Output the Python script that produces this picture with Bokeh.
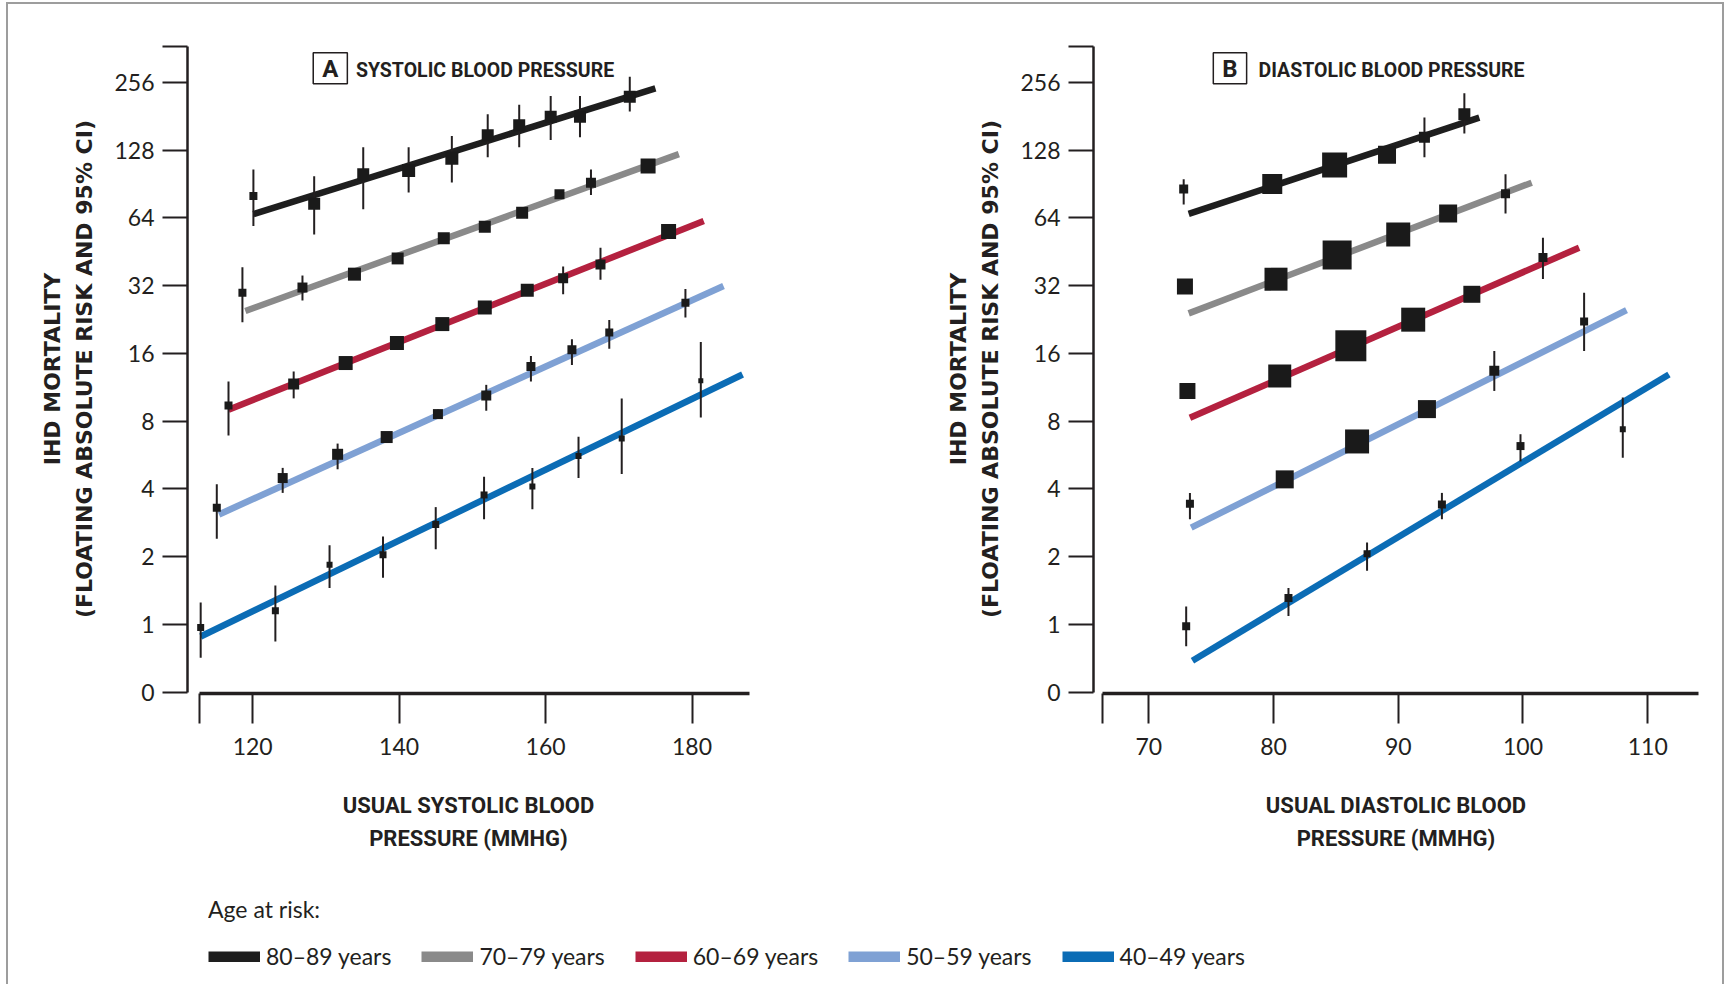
import numpy as np
from bokeh.plotting import figure
from bokeh.models import (Range1d, FixedTicker, CustomJSTickFormatter, Label,
                          Legend, LegendItem, InlineStyleSheet)
from bokeh.layouts import column, row
from bokeh.embed import file_html
from bokeh.resources import INLINE

# ---------------- data ----------------
AGE_LABELS = ["80–89 years", "70–79 years", "60–69 years", "50–59 years", "40–49 years"]
AGE_COLORS = ["#1e1e1e", "#8a8a8a", "#b4213f", "#7fa1d4", "#0b6cb5"]

# Panel A: usual systolic blood pressure (mmHg) vs IHD mortality (floating absolute risk)
sbp_80_x = [120.1, 128.4, 135.1, 141.3, 147.2, 152.1, 156.4, 160.7, 164.7, 171.5]
sbp_80_risk = [80, 74, 100, 104, 118, 149, 165, 180, 180, 221]
sbp_80_lo = [59, 54, 70, 83, 92, 119, 132, 142, 146, 190]
sbp_80_hi = [105, 98, 132, 132, 148, 185, 204, 223, 223, 271]
sbp_80_wt = [0.8, 1.2, 1.2, 1.3, 1.3, 1.2, 1.2, 1.2, 1.2, 1.2]
sbp_80_fit_x = [120.1, 175.0]
sbp_80_fit_risk = [66.5, 241]

sbp_70_x = [118.6, 126.8, 133.9, 139.8, 146.1, 151.7, 156.8, 161.9, 166.2, 174.0]
sbp_70_risk = [29.8, 31.4, 36, 42.3, 52, 58.5, 67.5, 81.5, 91.7, 109]
sbp_70_lo = [22, 27.5, 34, 40.5, 50, 56, 64, 78, 81, 105]
sbp_70_hi = [38.6, 35.5, 38, 44, 54, 61, 71, 85, 105, 113]
sbp_70_wt = [0.8, 1.0, 1.3, 1.2, 1.2, 1.2, 1.2, 1.0, 1.0, 1.5]
sbp_70_fit_x = [119.0, 178.2]
sbp_70_fit_risk = [24.7, 123]

sbp_60_x = [116.7, 125.6, 132.7, 139.7, 145.9, 151.7, 157.5, 162.4, 167.5, 176.8]
sbp_60_risk = [9.4, 11.7, 14.5, 17.8, 21.6, 25.6, 30.5, 34.5, 39.7, 55.7]
sbp_60_lo = [6.9, 10.1, 13.8, 17, 20.6, 24.4, 29, 29.3, 34, 53]
sbp_60_hi = [12, 13.3, 15.2, 18.6, 22.6, 26.8, 32, 38.9, 47.2, 58]
sbp_60_wt = [0.8, 1.1, 1.4, 1.4, 1.4, 1.4, 1.3, 1.0, 1.0, 1.5]
sbp_60_fit_x = [116.7, 181.6]
sbp_60_fit_risk = [9.0, 62]

sbp_50_x = [115.1, 124.1, 131.6, 138.3, 145.3, 151.9, 158.0, 163.6, 168.7, 179.1]
sbp_50_risk = [3.3, 4.47, 5.7, 6.8, 8.6, 10.4, 14.0, 16.6, 19.8, 26.9]
sbp_50_lo = [2.4, 3.84, 4.89, 6.5, 8.2, 8.9, 12.0, 14.2, 16.8, 23.1]
sbp_50_hi = [4.2, 4.96, 6.36, 7.1, 9.0, 11.6, 15.6, 18.5, 22.5, 30.9]
sbp_50_wt = [0.8, 1.0, 1.1, 1.2, 1.0, 1.0, 0.9, 0.9, 0.8, 0.8]
sbp_50_fit_x = [115.4, 184.3]
sbp_50_fit_risk = [3.08, 31.9]

sbp_40_x = [112.9, 123.1, 130.5, 137.8, 145.0, 151.6, 158.2, 164.5, 170.4, 181.2]
sbp_40_risk = [0.97, 1.15, 1.84, 2.04, 2.78, 3.76, 4.1, 5.6, 6.7, 12.1]
sbp_40_lo = [0.71, 0.84, 1.45, 1.61, 2.16, 2.93, 3.25, 4.47, 4.66, 8.3]
sbp_40_hi = [1.25, 1.49, 2.25, 2.46, 3.32, 4.53, 4.96, 6.82, 10.1, 18]
sbp_40_wt = [0.7, 0.7, 0.6, 0.7, 0.7, 0.7, 0.6, 0.6, 0.6, 0.5]
sbp_40_fit_x = [112.9, 186.9]
sbp_40_fit_risk = [0.884, 12.9]

# Panel B: usual diastolic blood pressure (mmHg)
dbp_80_x = [72.8, 79.9, 84.9, 89.1, 92.1, 95.3]
dbp_80_risk = [86, 90.5, 110, 122, 146, 185]
dbp_80_lo = [73.5, 87, 106, 116, 119, 152]
dbp_80_hi = [95, 94, 114, 128, 179, 229]
dbp_80_wt = [0.9, 2.0, 2.5, 1.8, 1.1, 1.2]
dbp_80_fit_x = [73.2, 96.5]
dbp_80_fit_risk = [66.7, 178.5]

dbp_70_x = [72.9, 80.2, 85.1, 90.0, 94.0, 98.6]
dbp_70_risk = [31.7, 34.2, 43.8, 54, 67, 82]
dbp_70_lo = [30.4, 33, 42.6, 52, 64, 67]
dbp_70_hi = [33, 35.5, 45, 56, 70, 100]
dbp_70_wt = [1.6, 2.3, 2.9, 2.4, 1.8, 0.9]
dbp_70_fit_x = [73.2, 100.7]
dbp_70_fit_risk = [24.1, 91.8]

dbp_60_x = [73.1, 80.5, 86.2, 91.2, 95.9, 101.6]
dbp_60_risk = [10.9, 12.7, 17.3, 22.6, 29.3, 42.7]
dbp_60_lo = [10.4, 12.2, 16.7, 21.7, 28.1, 34.3]
dbp_60_hi = [11.4, 13.2, 17.9, 23.5, 30.5, 52.3]
dbp_60_wt = [1.6, 2.3, 3.1, 2.4, 1.7, 0.9]
dbp_60_fit_x = [73.3, 104.5]
dbp_60_fit_risk = [8.28, 47.2]

dbp_50_x = [73.3, 80.9, 86.7, 92.3, 97.7, 104.9]
dbp_50_risk = [3.44, 4.41, 6.5, 9.05, 13.4, 22.2]
dbp_50_lo = [2.93, 4.2, 6.2, 8.7, 10.9, 16.4]
dbp_50_hi = [3.84, 4.6, 6.8, 9.4, 16.4, 29.8]
dbp_50_wt = [0.8, 1.8, 2.4, 1.8, 1.0, 0.8]
dbp_50_fit_x = [73.4, 108.3]
dbp_50_fit_risk = [2.69, 24.9]

dbp_40_x = [73.0, 81.2, 87.5, 93.5, 99.8, 108.0]
dbp_40_risk = [0.98, 1.31, 2.06, 3.41, 6.2, 7.36]
dbp_40_lo = [0.8, 1.09, 1.73, 2.93, 5.3, 5.5]
dbp_40_hi = [1.2, 1.45, 2.31, 3.84, 7.0, 10.2]
dbp_40_wt = [0.8, 0.8, 0.7, 0.8, 0.8, 0.6]
dbp_40_fit_x = [73.5, 111.7]
dbp_40_fit_risk = [0.69, 12.9]

sbp_ticks = [112.7, 120, 140, 160, 180]
dbp_ticks = [66.3, 70, 80, 90, 100, 110]
y_ticks = [-1, 0, 1, 2, 3, 4, 5, 6, 7, 8, 8.53]   # log2 scale; -1 shown as "0"

# ---------------- styling ----------------
INK = "#231f20"
BOX_PX = 10.0
HEAD = "Roboto"

sbp_groups = [
    (sbp_80_x, sbp_80_risk, sbp_80_lo, sbp_80_hi, sbp_80_wt, sbp_80_fit_x, sbp_80_fit_risk),
    (sbp_70_x, sbp_70_risk, sbp_70_lo, sbp_70_hi, sbp_70_wt, sbp_70_fit_x, sbp_70_fit_risk),
    (sbp_60_x, sbp_60_risk, sbp_60_lo, sbp_60_hi, sbp_60_wt, sbp_60_fit_x, sbp_60_fit_risk),
    (sbp_50_x, sbp_50_risk, sbp_50_lo, sbp_50_hi, sbp_50_wt, sbp_50_fit_x, sbp_50_fit_risk),
    (sbp_40_x, sbp_40_risk, sbp_40_lo, sbp_40_hi, sbp_40_wt, sbp_40_fit_x, sbp_40_fit_risk),
]
dbp_groups = [
    (dbp_80_x, dbp_80_risk, dbp_80_lo, dbp_80_hi, dbp_80_wt, dbp_80_fit_x, dbp_80_fit_risk),
    (dbp_70_x, dbp_70_risk, dbp_70_lo, dbp_70_hi, dbp_70_wt, dbp_70_fit_x, dbp_70_fit_risk),
    (dbp_60_x, dbp_60_risk, dbp_60_lo, dbp_60_hi, dbp_60_wt, dbp_60_fit_x, dbp_60_fit_risk),
    (dbp_50_x, dbp_50_risk, dbp_50_lo, dbp_50_hi, dbp_50_wt, dbp_50_fit_x, dbp_50_fit_risk),
    (dbp_40_x, dbp_40_risk, dbp_40_lo, dbp_40_hi, dbp_40_wt, dbp_40_fit_x, dbp_40_fit_risk),
]


def make_panel(groups, width, xr, ticks, tick_cut, xbounds, border_l, border_r,
               letter, letter_x, title, title_x, xlabel):
    p = figure(width=width, height=870, x_range=Range1d(*xr), y_range=Range1d(-1.02, 8.56),
               output_backend="svg", toolbar_location=None,
               min_border_left=border_l, min_border_right=border_r,
               min_border_top=44, min_border_bottom=177)
    p.xgrid.visible = False
    p.ygrid.visible = False
    p.outline_line_color = None
    p.background_fill_color = "white"
    p.border_fill_color = "white"

    for (x, r, lo, hi, wt, fx, fr), col in zip(groups, AGE_COLORS):
        p.line(x=fx, y=np.log2(fr), line_width=6.5, line_color=col, line_cap="butt")
    for (x, r, lo, hi, wt, fx, fr) in groups:
        p.segment(x0=x, y0=np.log2(lo), x1=x, y1=np.log2(hi), line_width=2, line_color=INK)
        p.scatter(x=x, y=np.log2(r), marker="square", size=np.array(wt) * BOX_PX,
                  fill_color="#1a1a1a", line_color=None)

    xa = p.xaxis[0]
    xa.ticker = FixedTicker(ticks=ticks)
    xa.formatter = CustomJSTickFormatter(code="return tick < %s ? '' : tick.toFixed(0);" % tick_cut)
    xa.bounds = xbounds
    xa.axis_line_width = 3.5
    xa.axis_line_color = INK
    xa.major_tick_line_width = 2
    xa.major_tick_line_color = INK
    xa.major_tick_out = 30
    xa.major_tick_in = 0
    xa.minor_tick_line_color = None
    xa.major_label_text_font = "Lato"
    xa.major_label_text_font_size = "23px"
    xa.major_label_text_color = INK
    xa.major_label_standoff = 14
    xa.axis_label = xlabel
    xa.axis_label_text_font = HEAD
    xa.axis_label_text_font_style = "bold"
    xa.axis_label_text_font_size = "22px"
    xa.axis_label_text_color = INK
    xa.axis_label_text_line_height = 1.35
    xa.axis_label_standoff = 35

    ya = p.yaxis[0]
    ya.ticker = FixedTicker(ticks=y_ticks)
    ya.formatter = CustomJSTickFormatter(code="""
        if (tick < -0.5) { return "0"; }
        if (tick > 8.2) { return ""; }
        return String(Math.round(Math.pow(2, tick)));
    """)
    ya.bounds = (-1, 8.53)
    ya.axis_line_width = 2.5
    ya.axis_line_color = INK
    ya.major_tick_line_width = 2
    ya.major_tick_line_color = INK
    ya.major_tick_out = 25
    ya.major_tick_in = 0
    ya.minor_tick_line_color = None
    ya.major_label_text_font = "Lato"
    ya.major_label_text_font_size = "23px"
    ya.major_label_text_color = INK
    ya.major_label_standoff = 8
    ya.major_label_orientation = "horizontal"
    ya.axis_label = "IHD MORTALITY\n(FLOATING ABSOLUTE RISK AND 95% CI)"
    ya.axis_label_text_font = "DejaVu Sans"
    ya.axis_label_text_font_style = "bold"
    ya.axis_label_text_font_size = "22px"
    ya.axis_label_text_color = INK
    ya.axis_label_text_line_height = 1.3
    ya.axis_label_standoff = 14

    p.add_layout(Label(x=letter_x, y=8.21, text=letter, text_align="center", text_baseline="middle",
                       text_font=HEAD, text_font_style="bold", text_font_size="24px",
                       text_color=INK, border_line_color=INK, border_line_width=1.5,
                       padding=dict(left=9, right=9, top=2, bottom=1)))
    p.add_layout(Label(x=title_x, y=8.17, text=title, text_align="left", text_baseline="middle",
                       text_font=HEAD, text_font_style="bold", text_font_size="19.5px",
                       text_color=INK))
    return p


p1 = make_panel(sbp_groups, 866, (111.1, 187.85), sbp_ticks, 115, (112.7, 187.85), 187, 117,
                "A", 130.6, "SYSTOLIC BLOOD PRESSURE", 134.1,
                "USUAL SYSTOLIC BLOOD\nPRESSURE (MMHG)")
p2 = make_panel(dbp_groups, 865, (65.57, 114.07), dbp_ticks, 68, (66.3, 114.07), 227, 33,
                "B", 76.51, "DIASTOLIC BLOOD PRESSURE", 78.8,
                "USUAL DIASTOLIC BLOOD\nPRESSURE (MMHG)")

# ---------------- legend strip ----------------
pl = figure(width=1731, height=114, x_range=Range1d(0, 1), y_range=Range1d(0, 1),
            x_axis_type=None, y_axis_type=None, output_backend="svg", toolbar_location=None,
            min_border_left=208, min_border_top=25, min_border_right=0, min_border_bottom=0)
pl.xgrid.visible = False
pl.ygrid.visible = False
pl.outline_line_color = None
items = []
for lab, col in zip(AGE_LABELS, AGE_COLORS):
    # hidden swatch renderer: only used to draw the legend key
    r = pl.line(x=[0, 1], y=[0, 0], line_width=11, line_color=col, line_cap="butt", visible=False)
    items.append(LegendItem(label=lab, renderers=[r]))
leg = Legend(items=items, orientation="horizontal", location="top_left",
             title="Age at risk:", title_text_font="Lato", title_text_font_size="23px",
             title_text_font_style="normal", title_text_color=INK, title_standoff=19,
             label_text_font="Lato", label_text_font_size="23px", label_text_color=INK,
             glyph_width=52, glyph_height=11, label_standoff=6, label_width=125,
             spacing=30, padding=7, margin=0, inactive_fill_alpha=0,
             border_line_color=None, background_fill_alpha=0)
pl.add_layout(leg)

frame_css = InlineStyleSheet(css="""
:host { position: relative; }
:host::after { content: ''; position: absolute; left: 6px; top: 2px; width: 1718px; height: 990px;
  border: 2px solid #9d9d9d; border-bottom: none; pointer-events: none; box-sizing: border-box; }
""")

layout = column(row(p1, p2), pl, stylesheets=[frame_css])

open("out.html", "w").write(file_html(layout, INLINE))
